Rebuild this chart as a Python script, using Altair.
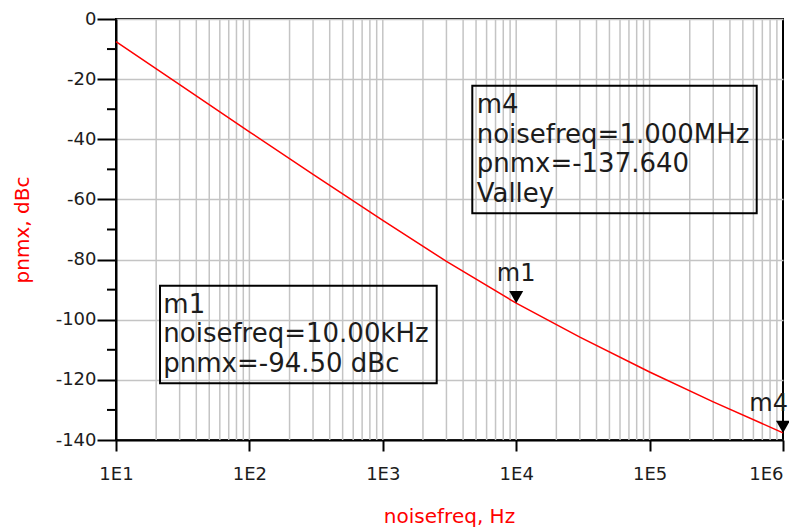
import altair as alt
import pandas as pd

# ---- data ----
freq_hz = [10, 30, 100, 300, 1000, 3000, 10000, 30000, 100000, 300000, 1000000]
pnmx_dbc = [-7.5, -21.8, -37.5, -51.7, -67.0, -80.6, -94.5, -105.8, -117.4, -127.3, -137.64]

marker_names = ["m1", "m4"]
marker_freq = [10000, 1000000]
marker_pnmx = [-94.50, -137.64]

m4_lines = ["m4", "noisefreq=1.000MHz", "pnmx=-137.640", "Valley"]
m1_lines = ["m1", "noisefreq=10.00kHz", "pnmx=-94.50 dBc"]

x_ticks = [10, 100, 1000, 10000, 100000, 1000000]
y_ticks = [-140, -120, -100, -80, -60, -40, -20, 0]
y_minor = [-130, -110, -90, -70, -50, -30, -10]
grid_freqs = [m * 10 ** k for k in range(1, 6) for m in range(1, 10) if not (k == 1 and m == 1)]

FONT = "DejaVu Sans"
TXT = "#1c1c1c"
RED = "#ff0000"
GRID = "#c4c4c4"

x_scale = alt.Scale(type="log", domain=[10, 1000000])
y_scale = alt.Scale(domain=[-140, 0])

curve = pd.DataFrame({"f": freq_hz, "v": pnmx_dbc})
grid_df = pd.DataFrame({"f": grid_freqs})
minor_df = pd.DataFrame({"v": y_minor})
markers = pd.DataFrame({"name": marker_names, "f": marker_freq, "v": marker_pnmx})
one = pd.DataFrame({"k": [0]})

xaxis = alt.Axis(values=x_ticks, labelExpr="'1E' + round(log(datum.value) / LN10)",
                 labelAlign=alt.condition("datum.value >= 1000000", alt.value("right"), alt.value("center")),
                 tickSize=11, tickWidth=2, tickColor="black",
                 domainColor="black", domainWidth=2,
                 labelFont=FONT, labelFontSize=18, labelColor=TXT, labelPadding=14,
                 labelFlush=False, labelOverlap=False, grid=False,
                 title="noisefreq, Hz", titleColor=RED, titleFont=FONT, titleFontSize=20,
                 titleFontWeight="normal", titleX=333, titleY=82,
                 titleBaseline="alphabetic", titleAlign="center")

yaxis = alt.Axis(values=y_ticks, labelExpr="'' + datum.value",
                 tickSize=19, tickWidth=2, tickColor="black",
                 domainColor="black", domainWidth=2,
                 labelFont=FONT, labelFontSize=18, labelColor=TXT, labelPadding=1,
                 labelFlush=False, grid=True, gridColor=GRID, gridWidth=1.5,
                 title="pnmx, dBc", titleColor=RED, titleFont=FONT, titleFontSize=20,
                 titleFontWeight="normal", titleX=-88, titleY=210.5, titleAngle=270,
                 titleBaseline="alphabetic", titleAlign="center")

X = alt.X("f:Q", scale=x_scale, axis=xaxis)
Y = alt.Y("v:Q", scale=y_scale, axis=yaxis)

vgrid = alt.Chart(grid_df).mark_rule(color=GRID, strokeWidth=1.5).encode(x=X)

yminor = alt.Chart(minor_df).mark_rule(color="black", strokeWidth=2).encode(
    y=Y, x=alt.value(-9), x2=alt.value(0))

line = alt.Chart(curve).mark_line(color=RED, strokeWidth=1.5).encode(x=X, y=Y)

box_m4 = alt.Chart(one).mark_rect(fillOpacity=0, stroke="black", strokeWidth=2).encode(
    x=alt.value(356.3), x2=alt.value(640.7), y=alt.value(66.7), y2=alt.value(194.3))
box_m1 = alt.Chart(one).mark_rect(fillOpacity=0, stroke="black", strokeWidth=2).encode(
    x=alt.value(44), x2=alt.value(320.7), y=alt.value(266.7), y2=alt.value(364.3))

txt_m4 = alt.Chart(one).mark_text(align="left", baseline="alphabetic", font=FONT,
                                  fontSize=26, lineHeight=29.5, color=TXT).encode(
    x=alt.value(360.7), y=alt.value(94.3), text=alt.value(m4_lines))
txt_m1 = alt.Chart(one).mark_text(align="left", baseline="alphabetic", font=FONT,
                                  fontSize=26, lineHeight=29.2, color=TXT).encode(
    x=alt.value(47.3), y=alt.value(294.3), text=alt.value(m1_lines))

tri = alt.Chart(markers).mark_point(shape="triangle-down", filled=True, color="black",
                                    opacity=1, size=196, yOffset=-6).encode(x=X, y=Y)

mlab1 = alt.Chart(markers).transform_filter("datum.name == 'm1'").mark_text(
    align="center", baseline="alphabetic", font=FONT, fontSize=24, dy=-22, color=TXT).encode(
    x=X, y=Y, text="name:N")
mlab4 = alt.Chart(markers).transform_filter("datum.name == 'm4'").mark_text(
    align="right", baseline="alphabetic", font=FONT, fontSize=24, dx=5, dy=-22, color=TXT).encode(
    x=X, y=Y, text="name:N")

chart = alt.layer(vgrid, yminor, line, box_m4, box_m1, txt_m4, txt_m1, tri, mlab1, mlab4).properties(
    width=667, height=421,
    padding={"left": 108, "top": 11, "right": 6, "bottom": 88},
    autosize=alt.AutoSizeParams(type="none"),
    background="white",
).configure_view(stroke="black", strokeWidth=2)

chart.save("out.html", embed_options={"renderer": "svg", "actions": False})
